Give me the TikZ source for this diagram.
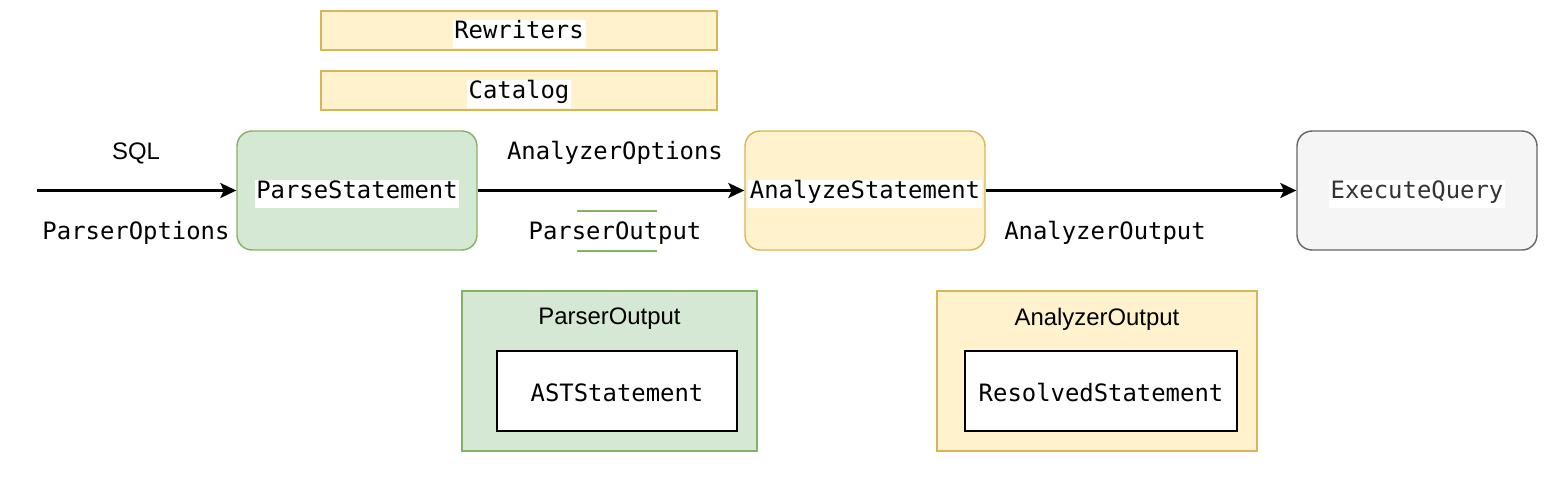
\documentclass[tikz,border=0pt]{standalone}
\usepackage{fontspec}
\setmonofont{DejaVu Sans Mono}
\setsansfont{Liberation Sans}
\usepackage{xcolor}
\usepackage{tikz}
\usetikzlibrary{arrows.meta}

\definecolor{greenfill}{HTML}{D5E8D4}
\definecolor{greendraw}{HTML}{82B366}
\definecolor{yellowfill}{HTML}{FFF2CC}
\definecolor{yellowdraw}{HTML}{D6B656}
\definecolor{greyfill}{HTML}{F5F5F5}
\definecolor{greydraw}{HTML}{666666}
\definecolor{greytext}{HTML}{333333}

\begin{document}
\begin{tikzpicture}[x=0.02cm,y=-0.02cm,
    every node/.style={font=\fontsize{13.6}{16}\selectfont\ttfamily},
    stage/.style={draw,line width=0.8pt,rounded corners=0.3cm,minimum width=4.8cm,minimum height=2.38cm},
    plain/.style={draw,line width=0.8pt,minimum width=#1,minimum height=0.78cm},
    txtbg/.style={fill=white,inner xsep=1pt,inner ysep=3pt,text height=0.76em,text depth=0.24em},
    arr/.style={-{Stealth[length=0.32cm,width=0.3cm,inset=0.07cm]},line width=1.4pt}]
  \useasboundingbox (0,0) rectangle (1548,498);
  % main stages
  \node[stage,fill=greenfill,draw=greendraw] (parse) at (357,190.5) {};
  \node[txtbg] (parse-t) at (357,194) {ParseStatement};
  \node[stage,fill=yellowfill,draw=yellowdraw] (analyze) at (865,190.5) {};
  \node[txtbg] (analyze-t) at (865,194) {AnalyzeStatement};
  \node[stage,fill=greyfill,draw=greydraw] (execute) at (1417,190.5) {};
  \node[txtbg,text=greytext] (execute-t) at (1417,194) {ExecuteQuery};
  % inputs of the analyzer
  \node[plain=7.92cm,fill=yellowfill,draw=yellowdraw] (rewriters) at (519,30.5) {};
  \node[txtbg] (rewriters-t) at (519,34) {Rewriters};
  \node[plain=7.92cm,fill=yellowfill,draw=yellowdraw] (catalog) at (519,90.5) {};
  \node[txtbg] (catalog-t) at (519,94) {Catalog};
  % connectors
  \coordinate (in) at (37,190.5);
  \draw[arr] (in) -- (parse);
  \draw[arr] (parse) -- (analyze);
  \draw[arr] (analyze) -- (execute);
  % edge labels
  \node[font=\fontsize{13.6}{16}\selectfont\sffamily] (sql) at (136,153) {SQL};
  \node (parseropts) at (136,233) {ParserOptions};
  \node (analyzeropts) at (615,153) {AnalyzerOptions};
  \draw[greendraw,line width=0.8pt] (577,211) -- (657,211) (577,251) -- (657,251);
  \node[txtbg] (parserout) at (615,235) {ParserOutput};
  \node (analyzerout) at (1105,233) {AnalyzerOutput};
  % output structures
  \node[draw=greendraw,fill=greenfill,line width=0.8pt,minimum width=5.9cm,minimum height=3.2cm] (pobox) at (609.5,371) {};
  \node[font=\fontsize{13.6}{16}\selectfont\sffamily] (pobox-t) at (609.5,319) {ParserOutput};
  \node[draw,fill=white,line width=0.8pt,minimum width=4.8cm,minimum height=1.6cm] (ast) at (617,391) {};
  \node (ast-t) at (617,393) {ASTStatement};
  \node[draw=yellowdraw,fill=yellowfill,line width=0.8pt,minimum width=6.4cm,minimum height=3.2cm] (aobox) at (1097,371) {};
  \node[font=\fontsize{13.6}{16}\selectfont\sffamily] (aobox-t) at (1097,319) {AnalyzerOutput};
  \node[draw,fill=white,line width=0.8pt,minimum width=5.44cm,minimum height=1.6cm] (resolved) at (1101,391) {};
  \node (resolved-t) at (1101,393) {ResolvedStatement};
\end{tikzpicture}
\end{document}
